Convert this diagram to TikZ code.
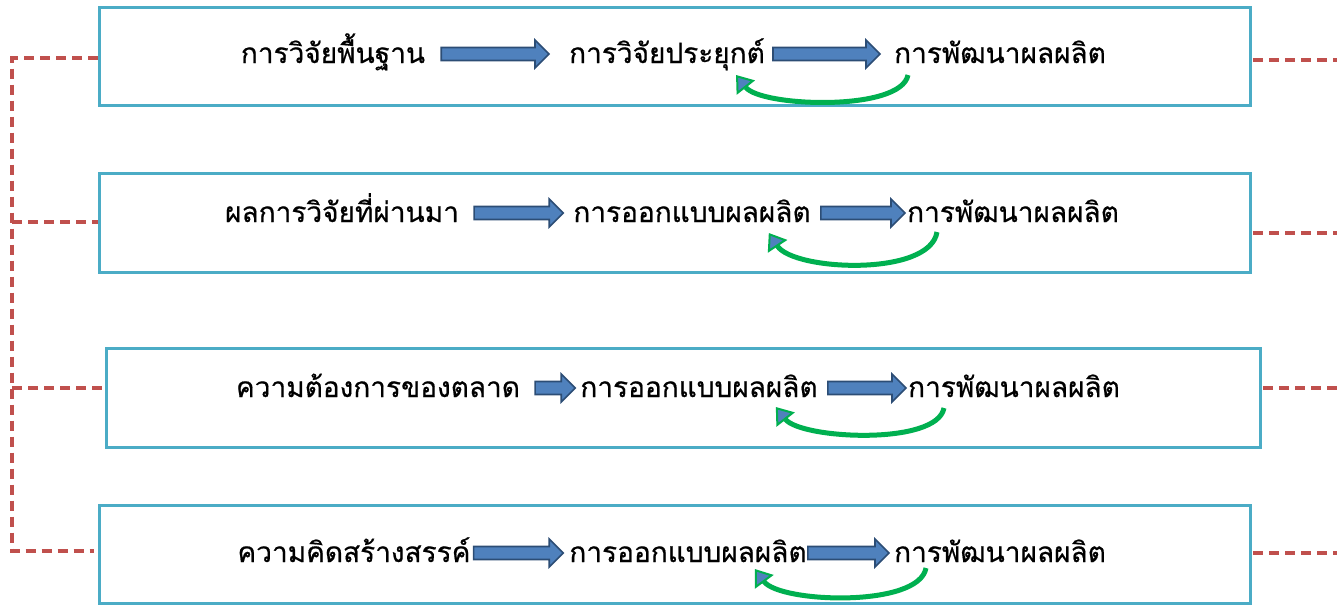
\documentclass[tikz,border=0pt]{standalone}
\usepackage{fontspec}
\newfontfamily\thai[Script=Thai,FakeBold=0.6]{Loma}
\usetikzlibrary{arrows.meta,calc}
\definecolor{boxblue}{HTML}{4BACC6}
\definecolor{dashred}{HTML}{C0504D}
\definecolor{arrfill}{HTML}{4F81BD}
\definecolor{arrline}{HTML}{2C4D75}
\definecolor{curvegreen}{HTML}{00B050}
\begin{document}
\begin{tikzpicture}[x=1pt,y=-1pt,
  frame/.style={draw=boxblue, line width=3pt, inner sep=0pt, outer sep=0pt},
  lbl/.style={font=\thai\fontsize{28}{30}\selectfont, inner sep=0pt, text height=18pt, text depth=0pt},
  link/.style={draw=dashred, line width=3.8pt, dash pattern=on 10pt off 6pt},
  blockarrow/.style={fill=arrfill, draw=arrline, line width=1.6pt,
    to path={let \p1=(\tikztostart), \p2=(\tikztotarget) in
      (\x1,\y1+6.5pt) -- (\x2-14pt,\y1+6.5pt) -- (\x2-14pt,\y1+14pt) -- (\x2,\y1)
      -- (\x2-14pt,\y1-14pt) -- (\x2-14pt,\y1-6.5pt) -- (\x1,\y1-6.5pt) -- cycle}},
  loopout/.style={draw=curvegreen, line width=5pt, -{Triangle[length=16pt,width=23pt,fill=arrfill,line width=2pt]}}
]
\useasboundingbox (0,0) rectangle (1337,605);

% boxes
\node[frame, minimum width=1151pt, minimum height=98pt] (B1) at (674.5,56) {};
\node[frame, minimum width=1151pt, minimum height=99pt] (B2) at (674.5,222.5) {};
\node[frame, minimum width=1154pt, minimum height=99pt] (B3) at (683,397.5) {};
\node[frame, minimum width=1151pt, minimum height=98pt] (B4) at (674.5,554) {};

% dashed links
\coordinate (L1) at (12,58);
\coordinate (L2) at (12,222);
\coordinate (L3) at (12,388);
\coordinate (L4) at (12,551);
\coordinate (R1) at (1337,60);
\coordinate (R2) at (1337,233);
\coordinate (R3) at (1337,388);
\coordinate (R4) at (1337,553);
\draw[link] ([xshift=-1.5pt]L1 -| B1.west) -- (L1) -- (L4) -- ([xshift=-5pt]L4 -| B4.west);
\draw[link] (L2) -- ([xshift=-1.5pt]L2 -| B2.west);
\draw[link] (L3) -- ([xshift=-1.5pt]L3 -| B3.west);
\draw[link] ([xshift=3pt]R1 -| B1.east) -- (R1);
\draw[link] ([xshift=3pt]R2 -| B2.east) -- (R2);
\draw[link] ([xshift=3pt]R3 -| B3.east) -- (R3);
\draw[link] ([xshift=3pt]R4 -| B4.east) -- (R4);

% row 1
\node[lbl] (a1) at (333,54) {การวิจัยพื้นฐาน};
\node[lbl] (b1) at (667,54) {การวิจัยประยุกต์};
\node[lbl] (c1) at (1000,54) {การพัฒนาผลผลิต};
\draw[blockarrow] ([xshift=16pt]a1.east) to ([xshift=-20pt]b1.west);
\draw[blockarrow] ([xshift=8pt]b1.east) to ([xshift=-14pt]c1.west);
\draw[loopout] ([shift={(14,21)}]c1.west) .. controls +(-7,37) and +(25,32) .. ([shift={(-29,21)}]b1.east);

% row 2
\node[lbl] (a2) at (342,213) {ผลการวิจัยที่ผ่านมา};
\node[lbl] (b2) at (692,213) {การออกแบบผลผลิต};
\node[lbl] (c2) at (1013,213) {การพัฒนาผลผลิต};
\draw[blockarrow] ([xshift=15pt]a2.east) to ([xshift=-10pt]b2.west);
\draw[blockarrow] ([xshift=10pt]b2.east) to ([xshift=-2pt]c2.west);
\draw[loopout] ([shift={(30,19)}]c2.west) .. controls +(-7,45) and +(25,38) .. ([shift={(-42,20)}]b2.east);

% row 3
\node[lbl] (a3) at (378,388) {ความต้องการของตลาด};
\node[lbl] (b3) at (699,388) {การออกแบบผลผลิต};
\node[lbl] (c3) at (1014,388) {การพัฒนาผลผลิต};
\draw[blockarrow] ([xshift=15pt]a3.east) to ([xshift=-5pt]b3.west);
\draw[blockarrow] ([xshift=10pt]b3.east) to ([xshift=-2pt]c3.west);
\draw[loopout] ([shift={(36,20)}]c3.west) .. controls +(-7,38) and +(25,32) .. ([shift={(-42,19)}]b3.east);

% row 4
\node[lbl] (a4) at (354,553) {ความคิดสร้างสรรค์};
\node[lbl] (b4) at (688,553) {การออกแบบผลผลิต};
\node[lbl] (c4) at (1000,553) {การพัฒนาผลผลิต};
\draw[blockarrow] ([xshift=3pt]a4.east) to ([xshift=-6pt]b4.west);
\draw[blockarrow] ([xshift=1pt]b4.east) to ([xshift=-5pt]c4.west);
\draw[loopout] ([shift={(32,15)}]c4.west) .. controls +(-7,40) and +(25,34) .. ([shift={(-52,16)}]b4.east);
\end{tikzpicture}
\end{document}
